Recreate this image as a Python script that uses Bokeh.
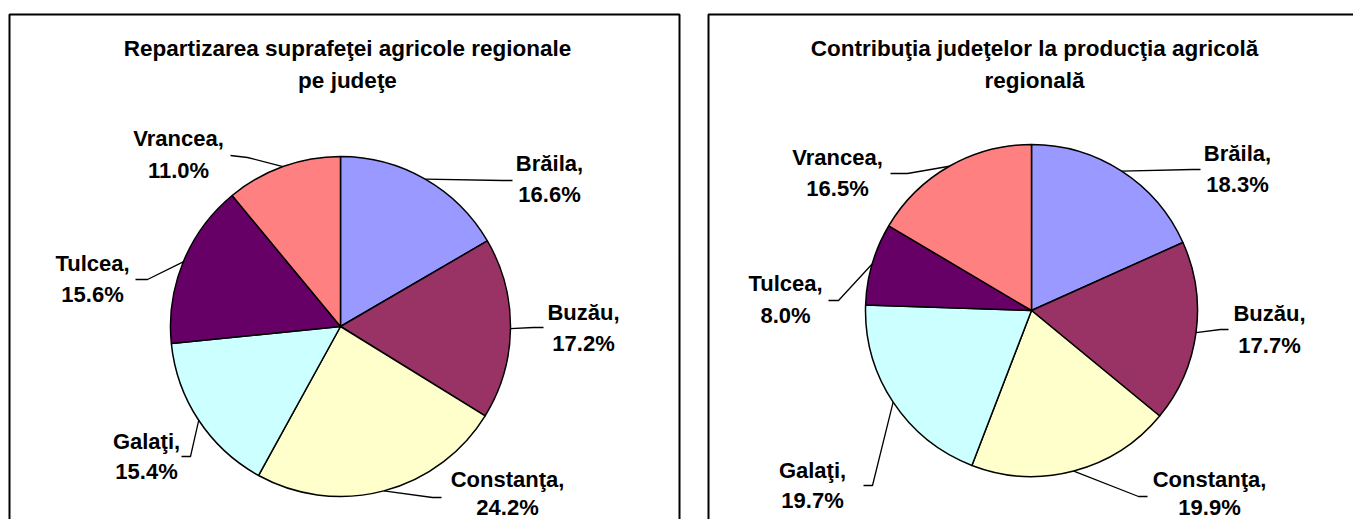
import math
from bokeh.plotting import figure
from bokeh.models import Range1d, ColumnDataSource
from bokeh.embed import file_html
from bokeh.resources import INLINE
from bokeh.core.properties import value

# ---------------- data ----------------
counties = ["Brăila", "Buzău", "Constanţa", "Galaţi", "Tulcea", "Vrancea"]
area_share = [16.6, 17.2, 24.2, 15.4, 15.6, 11.0]          # % of regional agricultural area
production_share = [18.3, 17.7, 19.9, 19.7, 8.0, 16.5]     # % of regional agricultural production
slice_colors = ["#9999FF", "#993366", "#FFFFCC", "#CCFFFF", "#660066", "#FF8080"]
title_area = ["Repartizarea suprafeţei agricole regionale", "pe judeţe"]
title_production = ["Contribuţia judeţelor la producţia agricolă", "regională"]

# ---------------- layout (picture pixel coordinates) ----------------
W, H = 1353, 519


def Y(py):
    return H - py


FONT = value("Liberation Sans")

p = figure(width=W, height=H, x_range=Range1d(0, W), y_range=Range1d(0, H),
           output_backend="svg", toolbar_location=None, min_border=0,
           x_axis_type=None, y_axis_type=None)
p.grid.visible = False
p.outline_line_color = None
p.background_fill_color = "white"
p.border_fill_color = "white"

# panel frames
p.quad(left=[9, 708], right=[679, 1400], top=[Y(14), Y(14)], bottom=[-20, -20],
       fill_color=None, line_color="black", line_width=2)

# label centres (x, y line1, y line2) and leader knee/end points, per slice
left_layout = dict(
    center=(340, 326), r=170, title_x=347,
    labels=[(549, 163, 194), (583, 312, 343), (507, 479, 507),
            (146, 441, 471), (92, 263, 294), (178, 138, 170)],
    knees=[(502, 180), (533, 327), (432, 497), (190, 456), (147, 279), (247, 157)],
    ends=[(512, 180), (543, 327), (441, 497), (181, 456), (135, 279), (230, 155)],
)
right_layout = dict(
    center=(1031, 310), r=166, title_x=1034,
    labels=[(1237, 153, 184), (1269, 313, 345), (1209, 479, 507),
            (812, 470, 500), (785, 283, 315), (837, 157, 188)],
    knees=[(1192, 169), (1220, 329), (1138, 496), (872, 485), (838, 300), (907, 173)],
    ends=[(1200, 169), (1228, 329), (1147, 496), (863, 485), (828, 300), (890, 173)],
)


def draw_pie(values, titles, lay):
    cx, cy = lay["center"][0], Y(lay["center"][1])
    r = lay["r"]
    total = float(sum(values))
    starts, ends, mids = [], [], []
    cum = 0.0
    for v in values:
        a0 = math.pi / 2 - 2 * math.pi * cum / total
        cum += v
        a1 = math.pi / 2 - 2 * math.pi * cum / total
        starts.append(a0)
        ends.append(a1)
        mids.append((a0 + a1) / 2)
    src = ColumnDataSource(dict(start=starts, end=ends, color=slice_colors))
    p.wedge(x=cx, y=cy, radius=r, start_angle="start", end_angle="end",
            direction="clock", fill_color="color", line_color="black",
            line_width=1.5, source=src)

    # leader lines
    xs, ys = [], []
    for m, (kx, ky), (ex, ey) in zip(mids, lay["knees"], lay["ends"]):
        xs.append([cx + r * math.cos(m), kx, ex])
        ys.append([cy + r * math.sin(m), Y(ky), Y(ey)])
    p.multi_line(xs=xs, ys=ys, line_color="black", line_width=1.3)

    # labels
    lx = [l[0] for l in lay["labels"]]
    p.text(x=lx, y=[Y(l[1]) for l in lay["labels"]], text=[c + "," for c in counties],
           text_align="center", text_baseline="middle", text_font=FONT,
           text_font_style="bold", text_font_size="22px", text_color="black")
    p.text(x=lx, y=[Y(l[2]) for l in lay["labels"]], text=["%.1f%%" % v for v in values],
           text_align="center", text_baseline="middle", text_font=FONT,
           text_font_style="bold", text_font_size="22px", text_color="black")

    # title
    p.text(x=[lay["title_x"]] * 2, y=[Y(48), Y(80)], text=titles,
           text_align="center", text_baseline="middle", text_font=FONT,
           text_font_style="bold", text_font_size="22.5px", text_color="black")


draw_pie(area_share, title_area, left_layout)
draw_pie(production_share, title_production, right_layout)

open("out.html", "w").write(file_html(p, INLINE))
